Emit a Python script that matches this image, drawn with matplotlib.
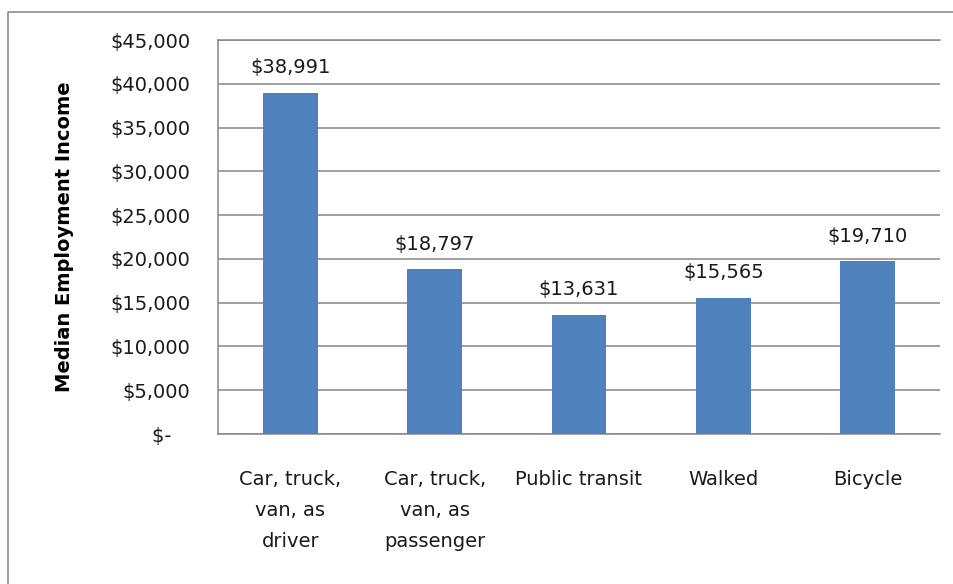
import matplotlib
matplotlib.use("Agg")
import matplotlib.pyplot as plt
from matplotlib.lines import Line2D
from matplotlib.ticker import FuncFormatter, MultipleLocator

categories = [
    "Car, truck,\nvan, as\ndriver",
    "Car, truck,\nvan, as\npassenger",
    "Public transit",
    "Walked",
    "Bicycle",
]
median_income = [38991, 18797, 13631, 15565, 19710]

BAR_COLOR = "#4F81BD"
GRID_COLOR = "#868686"
TEXT_COLOR = "#1a1a1a"


def money(v, pos=None):
    if v == 0:
        return "$-   "
    return f"${v:,.0f}"


def main() -> None:
    plt.rcParams["font.family"] = ["DejaVu Sans"]
    fig = plt.figure(figsize=(9.54, 5.84), dpi=100)
    ax = fig.add_axes([0.2285, 0.2568, 0.7568, 0.6747])

    # outer chart border: only left and top edges fall inside the crop
    bx, by = 8 / 954, 1 - 12 / 584
    fig.add_artist(Line2D([bx, bx, 1.0], [0.0, by, by],
                          transform=fig.transFigure,
                          color="#8c8c8c", linewidth=1.2))

    x = range(len(categories))
    bars = ax.bar(x, median_income, width=0.38, color=BAR_COLOR, zorder=3)

    for b, v in zip(bars, median_income):
        ax.annotate(money(v), (b.get_x() + b.get_width() / 2, v),
                    xytext=(0, 11), textcoords="offset points",
                    ha="center", va="bottom", fontsize=14, color=TEXT_COLOR)

    ax.set_xlim(-0.5, len(categories) - 0.5)
    ax.set_ylim(0, 45000)
    ax.yaxis.set_major_locator(MultipleLocator(5000))
    ax.yaxis.set_major_formatter(FuncFormatter(money))
    ax.grid(axis="y", color=GRID_COLOR, linewidth=1.1, zorder=0)

    ax.set_xticks(list(x))
    ax.set_xticklabels(categories, fontsize=14, color=TEXT_COLOR,
                       linespacing=1.78)
    ax.tick_params(axis="x", length=0, pad=26)
    ax.tick_params(axis="y", length=0, pad=20, labelsize=14,
                   labelcolor=TEXT_COLOR)

    for side in ("left", "top", "bottom"):
        ax.spines[side].set_color(GRID_COLOR)
        ax.spines[side].set_linewidth(1.1)
    ax.spines["right"].set_visible(False)

    ax.set_ylabel("Median Employment Income", fontsize=14, fontweight="bold",
                  color="black", labelpad=26)

    fig.savefig("out.png", dpi=100)


if __name__ == "__main__":
    main()
